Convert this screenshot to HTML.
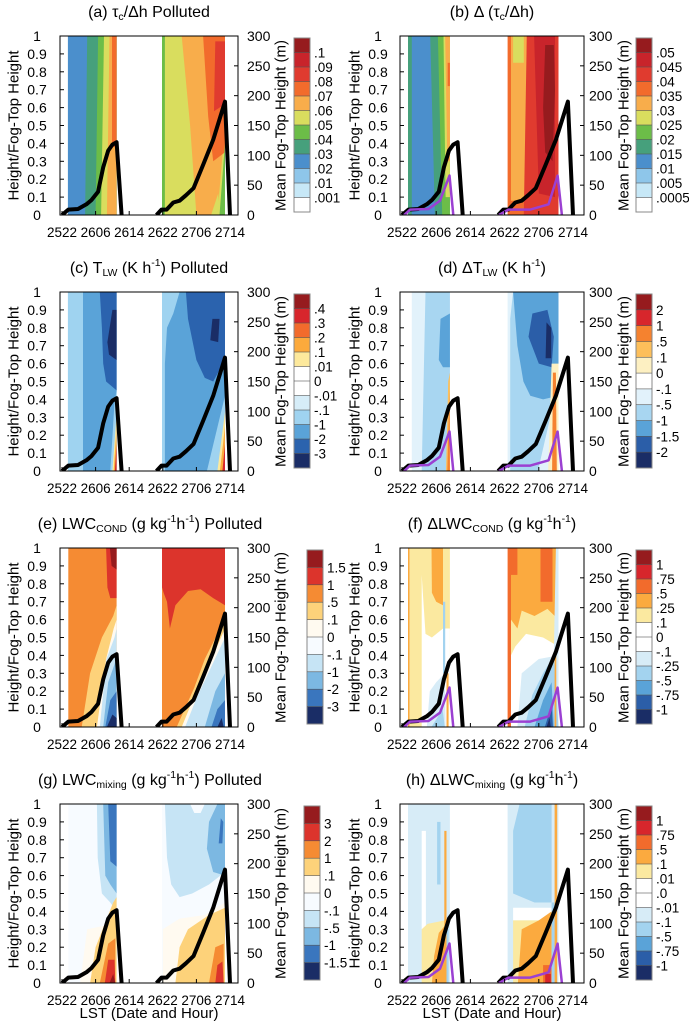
<!DOCTYPE html>
<html><head><meta charset="utf-8">
<style>
body{margin:0;background:#fff;}
#wrap{position:relative;width:689px;height:1028px;overflow:hidden;font-family:"Liberation Sans",sans-serif;}
.title{position:absolute;width:320px;text-align:center;font-size:16px;line-height:20px;color:#000;white-space:nowrap;}
.title sub{font-size:10.5px;vertical-align:-3px;line-height:0;}
.title sup{font-size:10.5px;vertical-align:7px;line-height:0;}
svg text{font-family:"Liberation Sans",sans-serif;}
</style></head>
<body>
<div id="wrap">
<div class="title" style="left:-11px;top:3px">(a) τ<sub>c</sub>/Δh Polluted</div>
<div class="title" style="left:332px;top:3px">(b) Δ (τ<sub>c</sub>/Δh)</div>
<div class="title" style="left:-11px;top:259px">(c) T<sub>LW</sub> (K h<sup>-1</sup>) Polluted</div>
<div class="title" style="left:332px;top:259px">(d) ΔT<sub>LW</sub> (K h<sup>-1</sup>)</div>
<div class="title" style="left:-10px;top:515px">(e) LWC<sub>COND</sub> (g kg<sup>-1</sup>h<sup>-1</sup>) Polluted</div>
<div class="title" style="left:332px;top:515px">(f) ΔLWC<sub>COND</sub> (g kg<sup>-1</sup>h<sup>-1</sup>)</div>
<div class="title" style="left:-10px;top:771px">(g) LWC<sub>mixing</sub> (g kg<sup>-1</sup>h<sup>-1</sup>) Polluted</div>
<div class="title" style="left:332px;top:771px">(h) ΔLWC<sub>mixing</sub> (g kg<sup>-1</sup>h<sup>-1</sup>)</div>
<svg id="fig" width="689" height="1028" style="position:absolute;left:0;top:0" xmlns="http://www.w3.org/2000/svg"></svg>
</div>
<script>
// ---- data ----
const xTickLabels = ['2522','2606','2614','2622','2706','2714'];
const xTickHours = [0,8,16,24,32,40];
const yTickLabels = ['0','0.1','0.2','0.3','0.4','0.5','0.6','0.7','0.8','0.9','1'];
const rightTickLabels = ['0','50','100','150','200','250','300'];
const fogHoursA = [0,1.5,3.8,5.8,7,8.6,9.8,11,12,13,14.2];
const fogTopA = [0,9,10,18,25,39,80,108,118,122,0];
const fogHoursB = [22.5,23.7,24.9,26.5,28,29.5,31.3,33.6,36,38.8,40];
const fogTopB = [0,9,9,21,24,33,45,84,126,190,0];
const cleanHoursA = [0.5,1.9,6.2,8.9,11.1,12];
const cleanTopA = [0,9,10,24,66,0];
const cleanHoursB = [22.7,24.9,30,34.3,36.4,37.4];
const cleanTopB = [0,9,9,18,66,0];

const cbLabelsA = ['.1','.09','.08','.07','.06','.05','.04','.03','.02','.01','.001'];
const cbLabelsB = ['.05','.045','.04','.035','.03','.025','.02','.015','.01','.005','.0005'];
const cbLabelsC = ['.4','.3','.2','.1','.01','0','-.01','-.1','-1','-2','-3'];
const cbLabelsD = ['2','1','.5','.1','0','-.1','-.5','-1','-1.5','-2'];
const cbLabelsE = ['1.5','1','.5','.1','0','-.1','-1','-2','-3'];
const cbLabelsF = ['1','.75','.5','.25','.1','0','-.1','-.25','-.5','-.75','-1'];
const cbLabelsG = ['3','2','1','.1','0','-.1','-.5','-1','-1.5'];
const cbLabelsH = ['1','.75','.5','.1','.01','.0','-.01','-.1','-.5','-.75','-1'];

const palAB = ['#961b1e','#c8242b','#e03b2f','#f26b2c','#f8ad4b','#d9dd5e','#6cbd48','#46a07c','#4b8fcc','#8ec6ea','#c7e8f7','#ffffff'];
const palC = ['#961b1e','#d7262c','#f26b2c','#fcaa3c','#fde99c','#ffffff','#ffffff','#d6edf8','#9fd3f0','#5aa3d8','#2b63ae','#1a2d66'];
const palD = ['#961b1e','#d7262c','#f5822f','#fdbf5a','#fdf0c2','#ffffff','#e2f2fb','#a8d6f1','#5aa3d8','#2b5ea8','#1a2d66'];
const palEG = ['#961b1e','#dc342c','#f58b33','#fdd27a','#fffaf0','#f7fbff','#c6e4f5','#7cb8e2','#3a76be','#1a2d66'];
const palFH = ['#961b1e','#d7262c','#f26b2c','#fbaa3f','#fbe9a0','#ffffff','#ffffff','#d7ecf7','#a3d3ef','#5aa3d8','#2b5ea8','#1a2d66'];

// contour regions: [level index, [[hour, normalized height], ...]]
const contourA = [
[8,[[1.4,0],[13,0],[13,1],[1.4,1]]],[7,[[5.5,0],[13,0],[13,1],[6,1]]],[6,[[8,0],[13,0],[13,1],[8.6,1]]],
[5,[[9.3,0],[13,0],[13,1],[10,1]]],[4,[[10.7,0],[13,0],[13,1],[11.3,1]]],[3,[[11.9,0.38],[13,0.38],[13,1],[11.9,1]]],
[6,[[23.8,0],[38.8,0],[38.8,1],[23.8,1]]],[5,[[24.5,0],[38.8,0],[38.8,1],[24.5,1]]],
[4,[[32,0],[37,0],[38.8,0.5],[38.8,1],[28.5,1],[30.5,0.5]]],[3,[[36,0.3],[38.8,0.35],[38.8,1],[33.6,1],[34.8,0.55]]],
[2,[[36.2,0.58],[38.8,0.62],[38.8,0.97],[36.5,0.97]]],[5,[[35.5,0],[37.5,0],[37.2,0.12]]],[6,[[37.5,0],[38.8,0],[38.8,0.4]]]];
const contourB = [
[7,[[1.4,0],[11.2,0],[11.2,1],[1.4,1]]],[8,[[2.3,0],[7.7,0],[6.6,1],[2.3,1]]],[6,[[9.4,0],[11.2,0],[11.2,1],[8.4,1]]],
[5,[[10.2,0.1],[11.2,0.1],[11.2,1],[9.7,1]]],[4,[[10.6,0.3],[11.2,0.3],[11.2,1],[10.1,1]]],[3,[[10.7,0.72],[11.2,0.72],[11.2,0.85],[10.7,0.85]]],
[3,[[24.7,0],[36.6,0],[36.6,1],[24.7,1]]],[4,[[25.5,0.08],[29.2,0.08],[29.2,1],[25.5,1]]],[5,[[26,0.85],[28.5,0.85],[28.5,1],[26,1]]],
[2,[[28.5,0],[36.6,0],[36.6,1],[29.2,1]]],[1,[[32,0.12],[35.8,0.1],[35.8,1],[30.9,1]]],
[0,[[33.5,0.35],[35.2,0.3],[35.8,0.7],[35.5,0.95],[33.5,0.95],[33,0.6]]]];
const contourC = [
[8,[[1.4,0],[13,0],[13,1],[1.4,1]]],[9,[[5,0],[13,0],[13,1],[5,1]]],
[10,[[9,1],[13,1],[13,0.45],[10.5,0.5],[9.8,0.6],[9.5,0.8]]],[11,[[10.8,0.72],[11.2,0.65],[13,0.62],[13,0.9],[12,0.9]]],
[8,[[11.5,0],[13,0],[13,0.45],[12.5,0.38]]],[4,[[12,0],[13,0],[13,0.32]]],[3,[[12.3,0],[13,0],[13,0.25]]],[1,[[12.6,0],[13,0],[13,0.15]]],
[8,[[23.8,0],[38.8,0],[38.8,1],[23.8,1]]],[9,[[24.5,0],[38.8,0],[38.8,1],[28,1],[26.5,0.88],[25,0.8],[24.5,0.6]]],
[10,[[29.5,1],[38.8,1],[38.8,0.62],[36,0.5],[34,0.52],[32,0.62],[30,0.85]]],[11,[[35.3,0.73],[35.8,0.85],[37.5,0.85],[37.2,0.72]]],
[8,[[34.5,0],[38.8,0],[38.8,0.42]]],[4,[[37,0],[38.8,0],[38.8,0.33]]],[3,[[37.6,0],[38.8,0],[38.8,0.25]]],[1,[[38.2,0],[38.8,0],[38.8,0.15]]]];
const contourD = [
[6,[[2.3,0],[11.2,0],[11.2,1],[2.3,1]]],[7,[[4.6,0],[11.2,0],[11.2,1],[5.5,1]]],
[8,[[8.6,0.62],[9,0.85],[11.2,0.88],[11.2,0.58],[9.6,0.58]]],[3,[[10.3,0],[11.2,0],[11.2,0.55],[10.8,0.5]]],[2,[[10.6,0],[11.2,0],[11.1,0.45]]],
[6,[[24.7,0],[36.6,0],[36.6,1],[24.7,1]]],[7,[[25.3,0],[36.6,0],[36.6,1],[26,1],[25.3,0.85]]],
[8,[[26,1],[36.6,1],[36.6,0.42],[33,0.4],[30,0.42],[28.4,0.5],[27,0.7]]],
[9,[[29.6,0.75],[30.5,0.88],[34,0.9],[35.5,0.75],[35,0.58],[32,0.6]]],[10,[[33.6,0.63],[33.8,0.83],[34.9,0.8],[34.9,0.63]]],
[6,[[31.8,0],[36.6,0],[36.6,0.5]]],[4,[[34.2,0],[36.6,0],[36.6,0.6],[35,0.6]]],[2,[[35.1,0],[36.2,0],[36,0.55],[35.3,0.55]]]];
const contourE = [
[2,[[1.5,0],[13,0],[13,1],[1.5,1]]],[1,[[10.5,1],[13,1],[13,0.72],[11.5,0.72],[10.8,0.78]]],[0,[[11.4,1],[13,1],[13,0.88],[11.8,0.9]]],
[3,[[4.7,0],[13,0],[13,0.68],[12.2,0.62],[9.5,0.5],[6.7,0.3]]],[4,[[8.3,0],[13,0],[13,0.6],[12.3,0.55],[10.5,0.38]]],
[6,[[9,0],[13,0],[13,0.55],[12.5,0.5],[10.6,0.38]]],[7,[[9.8,0],[13,0],[13,0.4],[12.5,0.35],[11,0.25]]],
[8,[[10.3,0],[13,0],[13,0.2],[11.5,0.15]]],[9,[[10.7,0],[13,0],[13,0.05],[12,0.07]]],
[2,[[23.8,0],[38.8,0],[38.8,1],[23.8,1]]],
[1,[[23.8,1],[38.8,1],[38.8,0.68],[36,0.72],[33,0.77],[30,0.76],[27,0.68],[25.7,0.55],[25,0.7],[24.2,0.75],[23.8,0.78]]],
[3,[[27.3,0],[38.8,0],[38.8,0.64],[37,0.52],[34,0.38],[31.5,0.22]]],[4,[[28.5,0],[38.8,0],[38.8,0.55],[36,0.4],[32,0.2]]],
[6,[[29.3,0],[38.8,0],[38.8,0.5],[36,0.36],[32,0.16]]],[7,[[34,0],[38.8,0],[38.8,0.3],[36.5,0.2]]],
[8,[[35.6,0],[38.8,0],[38.8,0.15],[37,0.1]]],[9,[[37,0],[38.5,0],[38,0.05]]]];
const contourF = [
[3,[[1.4,0],[1.8,0],[1.8,1],[1.4,1]]],[4,[[1.8,0],[11.2,0],[11.2,1],[1.8,1]]],
[5,[[4.6,0],[11.2,0],[11.2,0.55],[9.6,0.55],[7,0.5],[5.5,0.52],[4.6,0.85]]],[3,[[6.9,1],[9.6,1],[9.6,0.68],[8,0.7],[7,0.75]]],
[8,[[9.6,0.3],[10.1,0.3],[10.1,0.7],[9.6,0.7]]],[7,[[5.8,0],[10.2,0],[10,0.3],[8,0.25],[6.5,0.2]]],[8,[[6.9,0],[10,0],[9.5,0.1]]],
[3,[[10.4,0],[10.9,0],[10.9,0.3],[10.4,0.3]]],
[2,[[24.7,0],[36.6,0],[36.6,1],[24.7,1]]],[3,[[25.5,0],[36.6,0],[36.6,1],[25.5,1]]],
[2,[[25.5,0.85],[27,0.85],[27,1],[25.5,1]]],[2,[[32.4,0.7],[35.2,0.7],[35.2,1],[32.4,1]]],
[4,[[25.5,0],[36.6,0],[36.6,0.6],[34,0.66],[31,0.62],[28,0.65],[27,0.55],[25.5,0.6]]],
[5,[[25.5,0],[36.6,0],[36.6,0.45],[33,0.5],[29,0.52],[26.5,0.45],[25.5,0.4]]],
[7,[[27,0],[36.6,0],[36.6,0.4],[32,0.38],[28,0.3]]],[8,[[28.7,0],[36.6,0],[35.5,0.4],[33,0.3],[30.5,0.18]]],
[9,[[31,0],[35.5,0],[35,0.25],[33,0.15]]],[10,[[33.4,0],[35.3,0],[35,0.12]]],[11,[[33.8,0],[34.8,0],[34.5,0.05]]],
[7,[[35.5,0.4],[36.6,0.4],[36.6,1],[36,1]]],[3,[[35.7,0],[36.1,0],[36.1,0.4],[35.7,0.4]]]];
const contourG = [
[5,[[1.5,0],[13,0],[13,1],[1.5,1]]],[6,[[8.3,1],[13,1],[13,0.4],[11.5,0.45],[9.5,0.5],[8.5,0.7]]],
[7,[[9.8,1],[13,1],[13,0.5],[11.5,0.55],[10.3,0.6]]],[8,[[11,1],[13,1],[13,0.65],[11.5,0.68]]],
[4,[[4.3,0],[13,0],[13,0.45],[10,0.32],[6,0.3]]],[3,[[6.7,0],[13,0],[13,0.48],[12.2,0.45],[10,0.32],[8,0.2]]],
[2,[[9,0],[12.7,0],[12.7,0.25],[11,0.22]]],[1,[[10.2,0],[12.7,0],[12.5,0.13],[11,0.13]]],[0,[[11.3,0],[12.7,0],[12.2,0.05]]],
[5,[[23.8,0],[38.8,0],[38.8,1],[23.8,1]]],
[6,[[24.5,1],[30.5,1],[31.5,0.95],[33,0.95],[34,1],[38.8,1],[38.8,0.62],[35,0.55],[31,0.5],[28,0.48],[26,0.55],[25,0.7]]],
[7,[[37,1],[38.8,1],[38.8,0.6],[36,0.62],[34.5,0.75],[35,0.9]]],[8,[[37.3,0.78],[37.8,0.92],[38.4,0.9],[38.2,0.78]]],
[4,[[24,0],[38.8,0],[38.8,0.45],[34,0.38],[28,0.36],[24,0.3]]],[3,[[27,0],[38.8,0],[38.8,0.42],[35,0.38],[30,0.3],[28,0.2]]],
[2,[[35,0],[38.5,0],[38.5,0.22],[36.5,0.2]]],[1,[[36.5,0],[38.5,0],[38.2,0.12],[37,0.1]]]];
const contourH = [
[7,[[1.4,0],[11.2,0],[11.2,1],[1.4,1]]],[5,[[4.6,0.3],[5.6,0.3],[5.6,0.85],[4.6,0.85]]],[8,[[8.2,0.55],[9,0.55],[9,0.9],[8.2,0.9]]],
[4,[[4.6,0],[10,0],[10,0.35],[6,0.33],[4.6,0.3]]],[3,[[7,0],[10,0],[10,0.32],[8.6,0.28],[7.5,0.15]]],
[3,[[9.9,0],[10.4,0],[10.4,0.85],[9.9,0.85]]],[8,[[10.4,0],[10.9,0],[10.9,0.3],[10.4,0.3]]],
[7,[[24.7,0],[36.6,0],[36.6,1],[24.7,1]]],[8,[[26,0.5],[26,0.85],[27.5,1],[35,1],[35,0.45],[31,0.45],[28,0.48]]],
[5,[[26,0.35],[35,0.35],[35,0.42],[26,0.42]]],[4,[[26,0],[35,0],[35,0.35],[26,0.35]]],
[3,[[27.1,0],[35,0],[35,0.4],[32,0.35],[28,0.3]]],[2,[[33,0],[35,0],[35,0.1],[33,0.1]]],[1,[[33.5,0],[34.8,0],[34.8,0.05],[33.5,0.05]]],
[8,[[35,0],[35.7,0],[35.7,0.45],[35,0.45]]],[3,[[35.7,0],[36.3,0],[36.3,1],[35.7,1]]]];

// ---- layout ----
const NS='http://www.w3.org/2000/svg';
const svg=document.getElementById('fig');
const cols=[{L:60,R:238,x0:62,x40:230,ylab:37,rlab:247,ytitle:14,rtitle:281},
            {L:400,R:584,x0:402,x40:573,ylab:378,rlab:589,ytitle:355,rtitle:624}];
const panels=[
 {id:'a',c:0,r:0,pal:palAB,cb:cbLabelsA,reg:contourA,cbx:294,clean:false},
 {id:'b',c:1,r:0,pal:palAB,cb:cbLabelsB,reg:contourB,cbx:636,clean:true},
 {id:'c',c:0,r:1,pal:palC,cb:cbLabelsC,reg:contourC,cbx:294,clean:false},
 {id:'d',c:1,r:1,pal:palD,cb:cbLabelsD,reg:contourD,cbx:636,clean:true},
 {id:'e',c:0,r:2,pal:palEG,cb:cbLabelsE,reg:contourE,cbx:307,clean:false},
 {id:'f',c:1,r:2,pal:palFH,cb:cbLabelsF,reg:contourF,cbx:636,clean:true},
 {id:'g',c:0,r:3,pal:palEG,cb:cbLabelsG,reg:contourG,cbx:304,clean:false},
 {id:'h',c:1,r:3,pal:palFH,cb:cbLabelsH,reg:contourH,cbx:636,clean:true}];

function mk(tag,attrs,parent){const e=document.createElementNS(NS,tag);for(const k in attrs)e.setAttribute(k,attrs[k]);(parent||svg).appendChild(e);return e;}

panels.forEach(p=>{
 const col=cols[p.c];
 const top=36+256*p.r, bot=215+256*p.r;
 const xs=h=>col.x0+(col.x40-col.x0)*h/40;
 const ys=z=>bot-(bot-top)*z;
 const ym=m=>ys(m/300);
 const g=mk('g',{});
 
 
 const cp=mk('clipPath',{id:'clip'+p.id},g);
 mk('rect',{x:col.L,y:top,width:col.R-col.L,height:bot-top},cp);
 const cg=mk('g',{'clip-path':'url(#clip'+p.id+')'},g);
 
 
 p.reg.forEach(rg=>{
  const pts=rg[1].map(q=>xs(q[0]).toFixed(1)+','+ys(q[1]).toFixed(1)).join(' ');
  const poly=mk('polygon',{points:pts,fill:p.pal[rg[0]]},cg);
  
  
 });
 function line(hs,vs,color,w,name){
  const d=hs.map((h,i)=>(i?'L':'M')+xs(h).toFixed(1)+' '+ym(vs[i]).toFixed(1)).join(' ');
  const pth=mk('path',{d:d,fill:'none',stroke:color,'stroke-width':w,'stroke-linejoin':'round'},cg);
  
  
 }
 line(fogHoursA,fogTopA,'#000',4,'fog-top-line-polluted-1');
 line(fogHoursB,fogTopB,'#000',4,'fog-top-line-polluted-2');
 if(p.clean){
  line(cleanHoursA,cleanTopA,'#9b40d2',2.5,'fog-top-line-clean-1');
  line(cleanHoursB,cleanTopB,'#9b40d2',2.5,'fog-top-line-clean-2');
 }
 const fr=mk('rect',{x:col.L,y:top,width:col.R-col.L,height:bot-top,fill:'none',stroke:'#000','stroke-width':1},g);
 
 
 yTickLabels.forEach((t,i)=>{
  const y=ys(i/10);
  mk('line',{x1:col.L,x2:col.L+4,y1:y,y2:y,stroke:'#000'},g);
  const tx=mk('text',{x:col.ylab,y:y+5,'font-size':14,'text-anchor':'middle'},g);
  tx.textContent=t;
  
  
 });
 rightTickLabels.forEach((t,i)=>{
  const y=ym(i*50);
  mk('line',{x1:col.R-4,x2:col.R,y1:y,y2:y,stroke:'#000'},g);
  const tx=mk('text',{x:col.rlab,y:y+5,'font-size':14},g);
  tx.textContent=t;
  
  
 });
 xTickLabels.forEach((t,i)=>{
  const x=xs(xTickHours[i]);
  mk('line',{x1:x,x2:x,y1:bot,y2:bot-4,stroke:'#000'},g);
  const tx=mk('text',{x:x,y:bot+22,'font-size':13.5,'text-anchor':'middle'},g);
  tx.textContent=t;
  
  
 });
 const mid=(top+bot)/2;
 const yt=mk('text',{x:col.ytitle,y:mid,'font-size':15,'text-anchor':'middle',transform:'rotate(-90 '+col.ytitle+' '+mid+')','dominant-baseline':'central'},g);
 yt.textContent='Height/Fog-Top Height';
 
 
 const rt=mk('text',{x:col.rtitle,y:mid,'font-size':15,'text-anchor':'middle',transform:'rotate(-90 '+col.rtitle+' '+mid+')','dominant-baseline':'central'},g);
 rt.textContent='Mean Fog-Top Height (m)';
 
 
 if(p.r===3){
  const xt=mk('text',{x:(col.L+col.R)/2,y:1018,'font-size':15,'text-anchor':'middle'},g);
  xt.textContent='LST (Date and Hour)';
  
  
 }
 const cbTop=38+256*p.r, cbH=174, n=p.pal.length, sh=cbH/n;
 const cbg=mk('g',{},g);
 
 
 p.pal.forEach((c,i)=>{
  const s=mk('rect',{x:p.cbx,y:cbTop+i*sh,width:16,height:sh+0.3,fill:c},cbg);
  
  
 });
 mk('rect',{x:p.cbx,y:cbTop,width:16,height:cbH,fill:'none',stroke:'#888','stroke-width':1},cbg);
 p.cb.forEach((t,i)=>{
  const y=cbTop+(i+1)*sh;
  mk('line',{x1:p.cbx,x2:p.cbx+16,y1:y,y2:y,stroke:'#555','stroke-width':0.6},cbg);
  const tx=mk('text',{x:p.cbx+20,y:y+5,'font-size':13.5},cbg);
  tx.textContent=t;
  
  
 });
});
</script>
</body></html>
